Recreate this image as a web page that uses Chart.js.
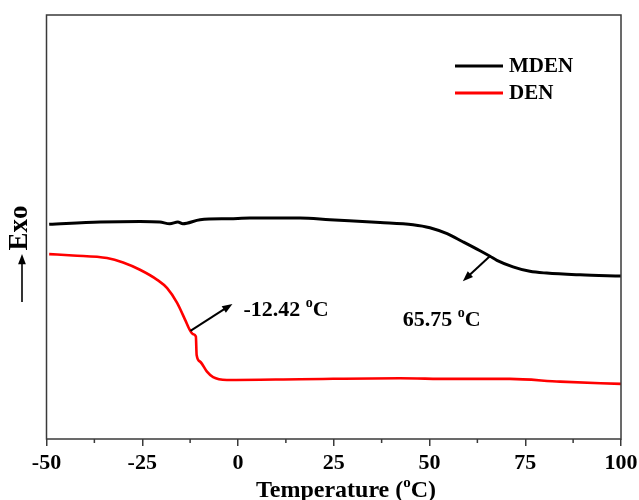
<!DOCTYPE html>
<html>
<head>
<meta charset="utf-8">
<script src="https://cdn.jsdelivr.net/npm/chart.js@4/dist/chart.umd.min.js"></script>
<style>
  html, body { margin: 0; padding: 0; background: #fff; }
  #wrap { width: 639px; height: 500px; }
</style>
</head>
<body>
<div id="wrap"><canvas id="dscChart" width="639" height="500"></canvas></div>
<script>
// x axis ticks (temperature, °C)
const X_MIN = -50, X_MAX = 100, X_STEP = 25;

// MDEN curve (temperature, heat flow in arbitrary units)
const mdenTemp = [-49.3, -36.0, -25.6, -20.4, -17.8, -15.7, -14.4, -9.9, -2.1, 3.1, 16.2, 24.0, 37.1, 45.7, 50.1, 54.6, 58.7, 63.2, 65.8, 67.6, 71.8, 76.2, 80.6, 89.3, 100];
const mdenFlow = [50.65, 51.17, 51.31, 51.17, 50.77, 51.17, 50.77, 51.71, 51.95, 52.11, 52.11, 51.71, 51.07, 50.53, 49.82, 48.41, 46.52, 44.39, 43.09, 42.15, 40.61, 39.55, 39.13, 38.72, 38.42];

// DEN curve
const denTemp = [-49.3, -43.1, -34.2, -30.0, -25.6, -21.1, -18.5, -15.9, -13.8, -12.5, -11.7, -11.0, -10.8, -9.9, -8.1, -6.5, -2.9, 16.2, 42.3, 55.4, 71.0, 84.1, 100];
const denFlow = [43.61, 43.28, 42.67, 41.63, 39.91, 37.54, 35.58, 32.11, 28.10, 25.57, 24.72, 24.16, 19.83, 18.25, 15.89, 14.57, 13.93, 14.10, 14.33, 14.17, 14.17, 13.53, 12.99];

// transition annotations
const annoSeries = ['DEN', 'MDEN'];
const annoTemp = [-12.42, 65.75];
const annoText = ['-12.42 ', '65.75 '];

const SERIF = '"Liberation Serif", "Times New Roman", serif';

function toPoints(xs, ys) {
    return xs.map((x, i) => ({ x: x, y: ys[i] }));
}

function interp(xs, ys, t) {
    for (let i = 0; i < xs.length - 1; i++) {
        if (t >= xs[i] && t <= xs[i + 1]) {
            const f = (t - xs[i]) / (xs[i + 1] - xs[i]);
            return ys[i] + f * (ys[i + 1] - ys[i]);
        }
    }
    return ys[ys.length - 1];
}

function drawArrow(ctx, x1, y1, x2, y2, lw) {
    const ang = Math.atan2(y2 - y1, x2 - x1);
    const head = 11;
    ctx.save();
    ctx.strokeStyle = '#000';
    ctx.fillStyle = '#000';
    ctx.lineWidth = lw || 2;
    ctx.beginPath();
    ctx.moveTo(x1, y1);
    ctx.lineTo(x2 - Math.cos(ang) * head * 0.8, y2 - Math.sin(ang) * head * 0.8);
    ctx.stroke();
    ctx.beginPath();
    ctx.moveTo(x2, y2);
    ctx.lineTo(x2 - head * Math.cos(ang - 0.36), y2 - head * Math.sin(ang - 0.36));
    ctx.lineTo(x2 - head * Math.cos(ang + 0.36), y2 - head * Math.sin(ang + 0.36));
    ctx.closePath();
    ctx.fill();
    ctx.restore();
}

// text like "65.75 °C" with a raised small o
function drawDegText(ctx, prefix, x, y, size) {
    ctx.save();
    ctx.fillStyle = '#000';
    ctx.textBaseline = 'alphabetic';
    ctx.textAlign = 'left';
    ctx.font = 'bold ' + size + 'px ' + SERIF;
    ctx.fillText(prefix, x, y);
    let cx = x + ctx.measureText(prefix).width;
    ctx.font = 'bold ' + Math.round(size * 0.62) + 'px ' + SERIF;
    ctx.fillText('o', cx, y - size * 0.4);
    cx += ctx.measureText('o').width;
    ctx.font = 'bold ' + size + 'px ' + SERIF;
    ctx.fillText('C', cx, y);
    const w = cx + ctx.measureText('C').width - x;
    ctx.restore();
    return w;
}

const decorPlugin = {
    id: 'decor',
    afterDraw(chart) {
        const ctx = chart.ctx;
        const a = chart.chartArea;
        const xs = chart.scales.x, ys = chart.scales.y;

        // frame
        ctx.save();
        ctx.strokeStyle = '#3a3a3a';
        ctx.lineWidth = 1.5;
        ctx.strokeRect(a.left, a.top, a.right - a.left, a.bottom - a.top);
        // minor ticks
        ctx.beginPath();
        for (let t = X_MIN + X_STEP / 2; t < X_MAX; t += X_STEP) {
            const px = xs.getPixelForValue(t);
            ctx.moveTo(px, a.bottom);
            ctx.lineTo(px, a.bottom + 4);
        }
        ctx.stroke();
        ctx.restore();

        // legend
        const legend = [['MDEN', '#000', 66], ['DEN', '#ff0000', 93]];
        legend.forEach(([label, color, y]) => {
            ctx.save();
            ctx.strokeStyle = color;
            ctx.lineWidth = 3;
            ctx.beginPath();
            ctx.moveTo(455, y);
            ctx.lineTo(503, y);
            ctx.stroke();
            ctx.fillStyle = '#000';
            ctx.font = 'bold 21px ' + SERIF;
            ctx.textBaseline = 'middle';
            ctx.fillText(label, 509, y + 1);
            ctx.restore();
        });

        // annotations
        annoSeries.forEach((name, i) => {
            const t = annoTemp[i];
            const v = name === 'DEN' ? interp(denTemp, denFlow, t) : interp(mdenTemp, mdenFlow, t);
            const px = xs.getPixelForValue(t);
            const py = ys.getPixelForValue(v);
            if (name === 'DEN') {
                drawArrow(ctx, px, py, px + 42, py - 27);
                drawDegText(ctx, annoText[i], px + 53, py - 15, 22);
            } else {
                drawArrow(ctx, px, py, px - 27, py + 25);
                drawDegText(ctx, annoText[i], px - 87, py + 70, 22);
            }
        });

        // x axis title
        ctx.save();
        const pre = 'Temperature (';
        ctx.font = 'bold 24px ' + SERIF;
        let w = ctx.measureText(pre).width;
        ctx.font = 'bold 15px ' + SERIF;
        w += ctx.measureText('o').width;
        ctx.font = 'bold 24px ' + SERIF;
        w += ctx.measureText('C)').width;
        const cx = 346 - w / 2;
        const w1 = drawDegText(ctx, pre, cx, 497, 24);
        ctx.fillStyle = '#000';
        ctx.font = 'bold 24px ' + SERIF;
        ctx.fillText(')', cx + w1, 497);
        ctx.restore();

        // y axis title: arrow + Exo
        ctx.save();
        drawArrow(ctx, 22, 302, 22, 254, 1.6);
        ctx.translate(20, 228);
        ctx.rotate(-Math.PI / 2);
        ctx.fillStyle = '#000';
        ctx.font = 'bold 27px ' + SERIF;
        ctx.textAlign = 'center';
        ctx.textBaseline = 'middle';
        ctx.fillText('Exo', 0, 0);
        ctx.restore();
    }
};

new Chart(document.getElementById('dscChart').getContext('2d'), {
    type: 'line',
    data: {
        datasets: [
            {
                label: 'MDEN',
                data: toPoints(mdenTemp, mdenFlow),
                borderColor: '#000',
                borderWidth: 3,
                pointRadius: 0,
                cubicInterpolationMode: 'monotone',
                fill: false
            },
            {
                label: 'DEN',
                data: toPoints(denTemp, denFlow),
                borderColor: '#ff0000',
                borderWidth: 2.6,
                pointRadius: 0,
                cubicInterpolationMode: 'monotone',
                fill: false
            }
        ]
    },
    options: {
        responsive: false,
        animation: false,
        layout: { padding: { top: 15, right: 18, left: 0, bottom: 0 } },
        plugins: { legend: { display: false }, tooltip: { enabled: false } },
        scales: {
            x: {
                type: 'linear',
                min: X_MIN,
                max: X_MAX,
                ticks: {
                    stepSize: X_STEP,
                    color: '#000',
                    padding: 4,
                    maxRotation: 0,
                    font: { family: SERIF, size: 22, weight: 'bold' }
                },
                grid: { display: true, drawOnChartArea: false, drawTicks: true, tickLength: 7, color: '#3a3a3a', lineWidth: 1.5 },
                border: { display: false },
                afterFit(scale) {
                    scale.height = 61;
                    scale.paddingLeft = 0;
                    scale.paddingRight = 0;
                }
            },
            y: {
                min: 0,
                max: 100,
                ticks: { display: false },
                grid: { display: false },
                border: { display: false },
                afterFit(scale) { scale.width = 46.5; }
            }
        }
    },
    plugins: [decorPlugin]
});
</script>
</body>
</html>
